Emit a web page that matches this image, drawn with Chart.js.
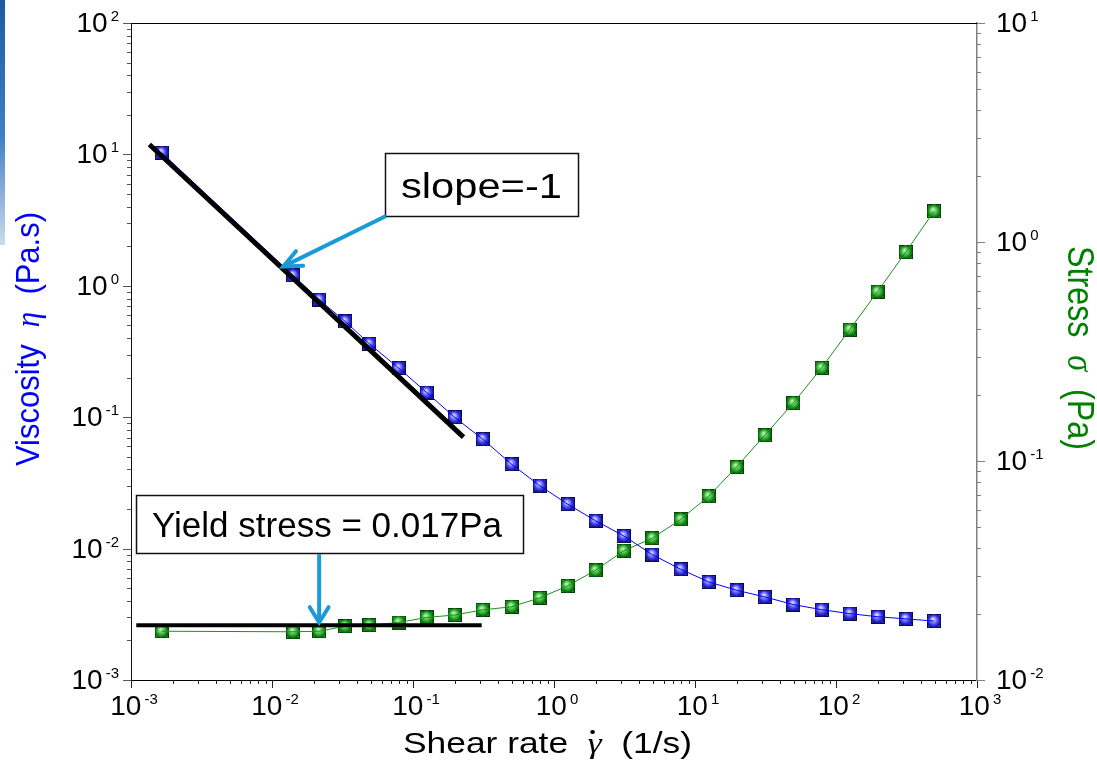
<!DOCTYPE html>
<html>
<head>
<meta charset="utf-8">
<script src="https://cdn.jsdelivr.net/npm/chart.js@4.4.0/dist/chart.umd.min.js"></script>
<style>
  html, body { margin: 0; padding: 0; background: #fff; }
  #wrap { position: relative; width: 1097px; height: 770px; }
  #strip { position: absolute; left: 0; top: 0; width: 5px; height: 245px; z-index: 2;
           background: linear-gradient(#1d5aa6, #3d7fc6 55%, #cddbeb); }
</style>
</head>
<body>
<div id="wrap"><canvas id="c"></canvas><div id="strip"></div></div>
<script>
/* ── data ── */
const SHEAR  = [0.00165, 0.0141, 0.0216, 0.033, 0.049, 0.079, 0.125, 0.197, 0.312, 0.50, 0.79,
                1.25, 1.97, 3.12, 4.98, 7.9, 12.5, 19.7, 31.2, 49.8, 79, 125, 197, 312, 495];
const VISC   = [10.3, 1.20, 0.784, 0.536, 0.362, 0.237, 0.154, 0.100, 0.0681, 0.0439, 0.0302,
                0.0218, 0.0163, 0.0125, 0.0090, 0.00697, 0.00558, 0.00482, 0.00429, 0.00375,
                0.00343, 0.00320, 0.00303, 0.00292, 0.00281];
const STRESS = [0.0167, 0.0166, 0.0167, 0.0176, 0.0178, 0.0183, 0.0193, 0.0198, 0.0209, 0.0216, 0.0237,
                0.0269, 0.0317, 0.0389, 0.0444, 0.0541, 0.0690, 0.0939, 0.131, 0.184,
                0.266, 0.398, 0.593, 0.898, 1.38];

// guide lines: slope -1 fit (viscosity axis) and yield-stress plateau (stress axis)
const SLOPE_X = [0.00135, 0.228];
const SLOPE_Y = [11.9, 0.0705];
const YIELD_X = [0.00109, 0.307];
const YIELD_Y = [0.0178, 0.0178];
const SLOPE_TIP = [0.012, 1.40];     // arrow tip, viscosity axis
const YIELD_TIP = [0.0216, 0.0183];  // arrow tip, stress axis

// decade exponents for the tick labels
const X_EXP  = [-3, -2, -1, 0, 1, 2, 3];
const Y_EXP  = [-3, -2, -1, 0, 1, 2];
const Y2_EXP = [-2, -1, 0, 1];

const SANS = '"Liberation Sans", Arial, sans-serif';
const SERIF = '"Liberation Serif", "Times New Roman", serif';
const ARROW = '#1b9ad8';

/* ── glossy square markers ── */
function marker(base, dark, light) {
  const s = 14, h = s / 2, c = document.createElement('canvas');
  c.width = c.height = s;
  const g = c.getContext('2d');
  g.fillStyle = dark; g.fillRect(0, 0, s, s);
  g.fillStyle = base; g.fillRect(1, 1, s - 2, s - 2);
  const rg = g.createRadialGradient(h - 1, h - 2, 0.5, h, h, h + 0.5);
  rg.addColorStop(0, light); rg.addColorStop(0.6, base); rg.addColorStop(1, dark);
  g.fillStyle = rg; g.beginPath(); g.arc(h, h, h, 0, Math.PI * 2); g.fill();
  return c;
}
const blueMark  = marker('#3a3af8', '#05054f', '#e0e0ff');
const greenMark = marker('#22a822', '#043e04', '#bdf2bd');

const pts = (xs, ys) => xs.map((x, i) => ({ x, y: ys[i] }));

/* ── text helper: parts with own fonts, fitted to a width ── */
function rich(ctx, parts, x, y, o) {
  ctx.save();
  ctx.translate(x, y);
  if (o.rot) ctx.rotate(o.rot);
  let w = 0;
  parts.forEach(p => { ctx.font = p.f; p.w = ctx.measureText(p.t).width + (p.gap || 0); w += p.w; });
  const sx = o.width ? o.width / w : 1;
  ctx.scale(sx, 1);
  let cx = o.align === 'center' ? -w / 2 : o.align === 'right' ? -w : 0;
  ctx.textAlign = 'left'; ctx.textBaseline = 'alphabetic';
  parts.forEach(p => {
    ctx.font = p.f; ctx.fillStyle = p.c || o.color;
    ctx.fillText(p.t, cx + (p.pre || 0), p.dy || 0);
    if (p.dot) { ctx.beginPath(); ctx.arc(cx + p.w * p.dot[0], p.dot[1], p.dot[2], 0, Math.PI * 2); ctx.fill(); }
    cx += p.w;
  });
  ctx.restore();
}

function powLabel(ctx, e, x, y, align) {
  rich(ctx, [{ t: '10', f: '28px ' + SANS }, { t: String(e), f: '15px ' + SANS, dy: -11, gap: 3, pre: 3 }],
       x, y, { align, color: '#000' });
}

function logTickMarks(ctx, scale, exps, dir, color) {
  ctx.strokeStyle = color; ctx.lineWidth = 1;
  const lo = exps[0], hi = exps[exps.length - 1];
  for (let e = lo; e <= hi; e++) {
    for (let m = 1; m < 10; m++) {
      if (e === hi && m > 1) break;
      const p = Math.round(scale.getPixelForValue(m * Math.pow(10, e))) + 0.5;
      const len = m === 1 ? 8 : 4;
      ctx.beginPath();
      if (dir === 'down') { ctx.moveTo(p, scale.top); ctx.lineTo(p, scale.top + len); }
      else if (dir === 'left') { ctx.moveTo(scale.right, p); ctx.lineTo(scale.right - len, p); }
      else { ctx.moveTo(scale.left, p); ctx.lineTo(scale.left + len, p); }
      ctx.stroke();
    }
  }
}

function arrow(ctx, x0, y0, x1, y1, head, spread) {
  const a = Math.atan2(y0 - y1, x0 - x1);
  ctx.save();
  ctx.strokeStyle = ARROW; ctx.lineWidth = 4; ctx.lineCap = 'butt';
  ctx.beginPath(); ctx.moveTo(x0, y0); ctx.lineTo(x1, y1); ctx.stroke();
  ctx.lineCap = 'round';
  ctx.beginPath();
  ctx.moveTo(x1 + head * Math.cos(a + spread), y1 + head * Math.sin(a + spread));
  ctx.lineTo(x1, y1);
  ctx.lineTo(x1 + head * Math.cos(a - spread), y1 + head * Math.sin(a - spread));
  ctx.stroke();
  ctx.restore();
}

function textBox(ctx, x, y, w, h) {
  ctx.save();
  ctx.fillStyle = '#fff'; ctx.fillRect(x, y, w, h);
  ctx.strokeStyle = '#111'; ctx.lineWidth = 1.5; ctx.strokeRect(x, y, w, h);
  ctx.restore();
}

const decor = {
  id: 'decor',
  afterDraw(chart) {
    const ctx = chart.ctx, a = chart.chartArea;
    const { x, y, y2 } = chart.scales;
    ctx.save();
    // top frame
    ctx.strokeStyle = '#000'; ctx.lineWidth = 1;
    ctx.beginPath(); ctx.moveTo(a.left, a.top + 0.5); ctx.lineTo(a.right, a.top + 0.5); ctx.stroke();

    logTickMarks(ctx, x, X_EXP, 'down', '#222');
    logTickMarks(ctx, y, Y_EXP, 'left', '#555');
    logTickMarks(ctx, y2, Y2_EXP, 'right', '#808080');

    X_EXP.forEach(e => powLabel(ctx, e, x.getPixelForValue(Math.pow(10, e)) + 3, a.bottom + 35, 'center'));
    Y_EXP.forEach(e => powLabel(ctx, e, a.left - 12, y.getPixelForValue(Math.pow(10, e)) + 9, 'right'));
    Y2_EXP.forEach(e => powLabel(ctx, e, a.right + 19, y2.getPixelForValue(Math.pow(10, e)) + 9, 'left'));

    // axis titles
    rich(ctx, [{ t: 'Shear rate  ', f: '30px ' + SANS },
               { t: 'γ', f: 'italic 30px ' + SERIF, dot: [0.35, -21, 2] },
               { t: '  (1/s)', f: '30px ' + SANS }],
         403, 753, { width: 289, color: '#000' });
    rich(ctx, [{ t: 'Viscosity  ', f: '33px ' + SANS },
               { t: 'η', f: 'italic 33px ' + SERIF },
               { t: '  (Pa.s)', f: '33px ' + SANS }],
         39, 339, { rot: -Math.PI / 2, align: 'center', width: 254, color: '#0000ff' });
    rich(ctx, [{ t: 'Stress  ', f: '37px ' + SANS },
               { t: 'σ', f: 'italic 37px ' + SERIF },
               { t: '  (Pa)', f: '37px ' + SANS }],
         1068, 348, { rot: Math.PI / 2, align: 'center', width: 204, color: '#008000' });

    // annotations
    textBox(ctx, 385.5, 153.5, 193, 63);
    rich(ctx, [{ t: 'slope=-1', f: '35px ' + SANS }], 401, 198, { width: 161, color: '#000' });
    arrow(ctx, 386, 216, x.getPixelForValue(SLOPE_TIP[0]), y.getPixelForValue(SLOPE_TIP[1]), 20, 0.42);

    textBox(ctx, 136.5, 495.5, 387, 58);
    rich(ctx, [{ t: 'Yield stress = 0.017Pa', f: '35px ' + SANS }], 152, 537, { width: 350, color: '#000' });
    const tx = x.getPixelForValue(YIELD_TIP[0]);
    arrow(ctx, tx, 554, tx, y2.getPixelForValue(YIELD_TIP[1]), 18, 0.55);
    ctx.restore();
  }
};

const axisBase = { type: 'logarithmic', grid: { display: false }, ticks: { display: false } };

new Chart(document.getElementById('c'), {
  type: 'line',
  data: {
    datasets: [
      { data: pts(SLOPE_X, SLOPE_Y), yAxisID: 'y', borderColor: '#000', borderWidth: 5, pointRadius: 0, order: 0 },
      { data: pts(YIELD_X, YIELD_Y), yAxisID: 'y2', borderColor: '#000', borderWidth: 4, pointRadius: 0, order: 0 },
      { data: pts(SHEAR, VISC), yAxisID: 'y', borderColor: '#0000ff', borderWidth: 1, pointRadius: 0, order: 1 },
      { data: pts(SHEAR, STRESS), yAxisID: 'y2', borderColor: '#1a901a', borderWidth: 1, pointRadius: 0, order: 1 },
      { data: pts(SHEAR, VISC), yAxisID: 'y', showLine: false, pointStyle: blueMark, pointRadius: 7, order: 2 },
      { data: pts(SHEAR, STRESS), yAxisID: 'y2', showLine: false, pointStyle: greenMark, pointRadius: 7, order: 2 },
    ]
  },
  options: {
    responsive: true, maintainAspectRatio: false, animation: false,
    layout: { padding: { top: 23, left: 0, right: 0, bottom: 0 } },
    plugins: { legend: { display: false }, tooltip: { enabled: false } },
    elements: { line: { tension: 0 } },
    scales: {
      x:  { ...axisBase, min: 1e-3, max: 1e3, border: { color: '#000', width: 1 }, afterFit: s => { s.height = 90; } },
      y:  { ...axisBase, position: 'left', min: 1e-3, max: 1e2, border: { color: '#111', width: 1 }, afterFit: s => { s.width = 131; } },
      y2: { ...axisBase, position: 'right', min: 1e-2, max: 1e1, border: { color: '#808080', width: 1.5 }, afterFit: s => { s.width = 120; } },
    }
  },
  plugins: [decor]
});
</script>
</body>
</html>
